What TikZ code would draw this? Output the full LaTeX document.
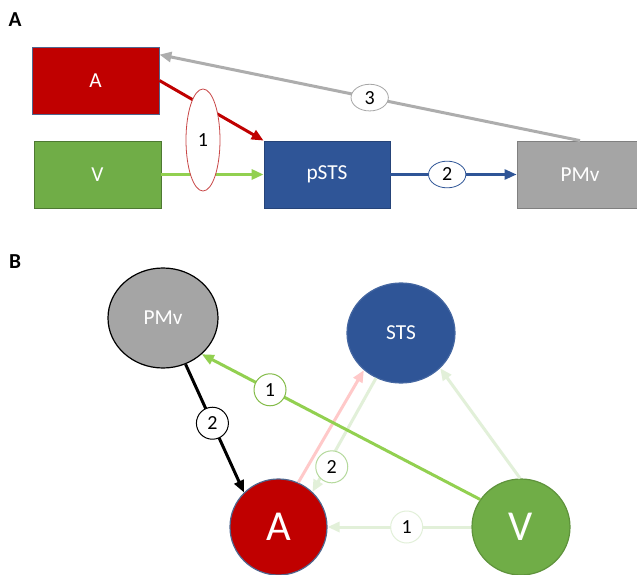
\documentclass[tikz,border=0pt]{standalone}
\usepackage{fontspec}
\setmainfont{Carlito}
\usetikzlibrary{arrows.meta,shapes.geometric}
\definecolor{cred}{HTML}{C00000}
\definecolor{cgreen}{HTML}{70AD47}
\definecolor{cgreenL}{HTML}{92D050}
\definecolor{cpale}{HTML}{E2F0D9}
\definecolor{cpaleB}{HTML}{B5D99C}
\definecolor{cblue}{HTML}{2F5597}
\definecolor{cgray}{HTML}{A5A5A5}
\definecolor{carrgray}{HTML}{ADADAD}
\definecolor{cpink}{HTML}{FFC9C9}
\begin{document}
\begin{tikzpicture}[x=0.75pt,y=-0.75pt,
  box/.style={rectangle, minimum height=50.25pt, text=white, inner sep=0pt,
    font=\fontsize{16}{19}\selectfont, line width=0.6pt},
  lab/.style={ellipse, draw, fill=white, text=black, inner sep=0pt, line width=0.6pt,
    font=\fontsize{15}{17}\selectfont, minimum width=28pt, minimum height=20pt},
  blab/.style={circle, draw, fill=white, text=black, inner sep=0pt, line width=0.75pt,
    font=\fontsize{15}{17}\selectfont, minimum size=24pt},
  circ/.style={ellipse, inner sep=0pt, text=white, line width=0.9pt},
  arr/.style={line width=2.25pt, -{Triangle[length=9pt,width=7.5pt]}},
  panel/.style={font=\fontsize{16}{19}\selectfont\bfseries}]
\clip (0,0) rectangle (637,575);
\fill[white] (0,0) rectangle (637,575);

% ---------- Panel A ----------
\node[panel] (pa) at (15,20) {A};
\node[box, fill=cred, draw=cblue!60!gray, minimum width=95.25pt] (bA) at (95.5,80.5) {A};
\node[box, fill=cgreen, draw=cgreen!70!black, minimum width=95.25pt] (bV) at (97.5,174.5) {V};
\node[box, fill=cblue, draw=cblue!80!black, minimum width=94.5pt] (bP) at (327,174.5) {pSTS};
\node[box, fill=cgray, draw=gray, minimum width=94.5pt] (bM) at (580,174.5) {PMv};

\draw[arr, cred] (bA.east) -- (bP.north west);
\draw[arr, cgreenL] (bV.east) -- (bP.west);
\draw[arr, cblue, line width=1.9pt] (bP.east) -- node[lab, draw=cblue, pos=0.45]{2} (bM.west);
\draw[arr, carrgray] (bM.north) -- node[lab, draw=gray!70, pos=0.5]{3} ([yshift=-6pt]bA.north east);
\node[ellipse, draw={rgb,255:red,200;green,70;blue,70}, fill=white, text=black, line width=0.6pt, inner sep=0pt,
  minimum width=25.5pt, minimum height=76.5pt, font=\fontsize{15}{17}\selectfont] (e1) at (203,140) {1};

% ---------- Panel B ----------
\node[panel] (pb) at (15,262) {B};
\node[circ, fill=cgray, draw=black, minimum width=82.5pt, minimum height=75pt,
  font=\fontsize{16}{19}\selectfont] (cM) at (163,318) {PMv};
\node[circ, fill=cblue, draw=cblue!90!white, minimum width=81pt, minimum height=75pt,
  font=\fontsize{16}{19}\selectfont] (cS) at (401,333) {STS};
\node[circ, fill=cred, draw=cblue!60!gray, minimum width=72.75pt, minimum height=72pt,
  font=\fontsize{32}{35}\selectfont] (cA) at (278.5,527) {A};
\node[circ, fill=cgreen, draw=cgreen!85!black, minimum width=73.5pt, minimum height=72pt,
  font=\fontsize{32}{35}\selectfont] (cV) at (521,527) {V};

\draw[arr, cpale] (cV.west) -- node[blab, draw=cpale, pos=0.45]{1} (cA.east);
\draw[arr, cpale] (cV.91) -- (cS.-42);
\draw[arr, cpink] (cA.66) -- (cS.-135);
\draw[arr, cpale] (cS.-119) -- node[blab, draw=cpaleB, pos=0.78, xshift=4pt]{2} (cA.46);
\draw[arr, cgreenL] (cV.146) -- node[blab, draw=cgreenL!90!black, pos=0.755]{1} (cM.-43);
\draw[arr, black] (cM.-64) -- node[blab, draw=black, pos=0.46]{2} (cA.135);
\end{tikzpicture}
\end{document}
